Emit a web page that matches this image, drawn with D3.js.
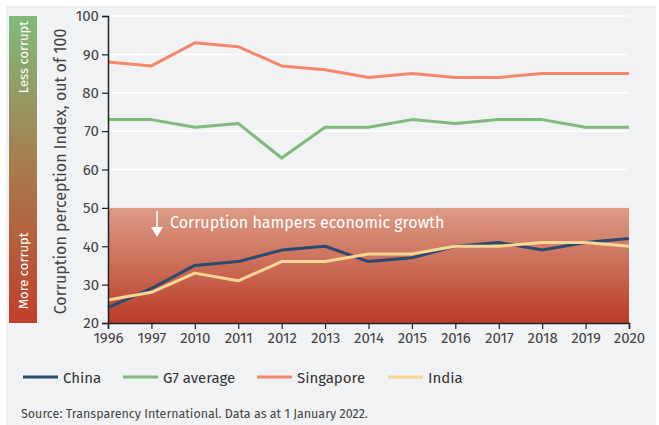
<!DOCTYPE html>
<html>
<head>
<meta charset="utf-8">
<script src="https://cdn.jsdelivr.net/npm/d3@7"></script>
<style>
  body { margin: 0; background: #fff; }
  svg { display: block; font-family: "Fira Sans", "Noto Sans", sans-serif; }
</style>
</head>
<body>
<svg id="chart" width="659" height="425"></svg>
<script>
const years = ['1996', '1997', '2010', '2011', '2012', '2013', '2014', '2015', '2016', '2017', '2018', '2019', '2020'];
const china = [24, 29, 35, 36, 39, 40, 36, 37, 40, 41, 39, 41, 42];
const g7 = [73, 73, 71, 72, 63, 71, 71, 73, 72, 73, 73, 71, 71];
const singapore = [88, 87, 93, 92, 87, 86, 84, 85, 84, 84, 85, 85, 85];
const india = [26, 28, 33, 31, 36, 36, 38, 38, 40, 40, 41, 41, 40];
const yTicks = [20, 30, 40, 50, 60, 70, 80, 90, 100];

const series = [
  {name: 'China', values: china, color: '#2b4a6f'},
  {name: 'G7 average', values: g7, color: '#80b97b'},
  {name: 'Singapore', values: singapore, color: '#f7876b'},
  {name: 'India', values: india, color: '#f6d894'}
];

const svg = d3.select('#chart');
svg.append('rect').attr('x', 6).attr('y', 6).attr('width', 650).attr('height', 419).attr('fill', '#f1f2f4');

const x = d3.scalePoint().domain(years).range([108, 629]);
const y = d3.scaleLinear().domain([20, 100]).range([323, 16]);

const defs = svg.append('defs');
const bandGrad = defs.append('linearGradient').attr('id', 'band').attr('x1', 0).attr('y1', 0).attr('x2', 0).attr('y2', 1);
bandGrad.append('stop').attr('offset', '0%').attr('stop-color', '#dd9c86');
bandGrad.append('stop').attr('offset', '100%').attr('stop-color', '#b93c29');
const sideGrad = defs.append('linearGradient').attr('id', 'side').attr('x1', 0).attr('y1', 0).attr('x2', 0).attr('y2', 1);
sideGrad.append('stop').attr('offset', '0%').attr('stop-color', '#80bb7a');
sideGrad.append('stop').attr('offset', '50%').attr('stop-color', '#a87a4e');
sideGrad.append('stop').attr('offset', '100%').attr('stop-color', '#c13f2b');

// side colour bar
svg.append('rect').attr('x', 9).attr('y', y(100)).attr('width', 28).attr('height', y(20) - y(100)).attr('fill', 'url(#side)');
svg.append('text').attr('transform', 'translate(27.5,' + (y(100) + 5) + ') rotate(-90)')
  .attr('text-anchor', 'end').attr('fill', '#fff').attr('font-size', 13).text('Less corrupt');
svg.append('text').attr('transform', 'translate(27.5,' + (y(20) - 14) + ') rotate(-90)')
  .attr('text-anchor', 'start').attr('fill', '#fff').attr('font-size', 13).text('More corrupt');

// axis title
svg.append('text').attr('transform', 'translate(66,' + ((y(20) + y(100)) / 2 + 2) + ') rotate(-90)')
  .attr('text-anchor', 'middle').attr('fill', '#444').attr('font-size', 16)
  .text('Corruption perception Index, out of 100');

// gridlines
svg.append('g').selectAll('line').data(yTicks.filter(d => d > 50)).enter().append('line')
  .attr('x1', x(years[0])).attr('x2', x(years[years.length - 1]))
  .attr('y1', d => y(d)).attr('y2', d => y(d))
  .attr('stroke', '#fff').attr('stroke-width', 1.5);

// corruption band
svg.append('rect').attr('x', x(years[0])).attr('y', y(50))
  .attr('width', x(years[years.length - 1]) - x(years[0])).attr('height', y(20) - y(50))
  .attr('fill', 'url(#band)');
svg.append('line').attr('x1', 157).attr('x2', 157).attr('y1', y(50) + 3).attr('y2', y(50) + 24)
  .attr('stroke', '#fff').attr('stroke-width', 1.5);
svg.append('path').attr('d', 'M151,' + (y(50) + 19) + ' L163,' + (y(50) + 19) + ' L157,' + (y(50) + 29) + ' Z').attr('fill', '#fff');
svg.append('text').attr('x', 170).attr('y', y(50) + 20).attr('fill', '#fff').attr('font-size', 16)
  .text('Corruption hampers economic growth');

// lines
const line = d3.line().x((d, i) => x(years[i])).y(d => y(d));
svg.append('g').selectAll('path').data(series).enter().append('path')
  .attr('d', d => line(d.values)).attr('fill', 'none')
  .attr('stroke', d => d.color).attr('stroke-width', 3).attr('stroke-linejoin', 'round');

// axes
const yAxis = svg.append('g').attr('transform', 'translate(' + x(years[0]) + ',0)')
  .call(d3.axisLeft(y).tickValues(yTicks).tickSize(6).tickPadding(3));
const xAxis = svg.append('g').attr('transform', 'translate(0,' + y(20) + ')')
  .call(d3.axisBottom(x).tickSize(6).tickPadding(3));
[yAxis, xAxis].forEach(function(g) {
  g.attr('font-family', null);
  g.select('.domain').attr('stroke', '#222').attr('stroke-width', 1.5);
  g.selectAll('.tick line').attr('stroke', '#222').attr('stroke-width', 1.2);
  g.selectAll('.tick text').attr('fill', '#444').attr('font-size', 15);
});

// legend
const legendX = [23, 123, 257, 388];
const legend = svg.append('g').selectAll('g').data(series).enter().append('g')
  .attr('transform', (d, i) => 'translate(' + legendX[i] + ',377)');
legend.append('line').attr('x1', 0).attr('x2', 35).attr('stroke', d => d.color).attr('stroke-width', 3);
legend.append('text').attr('x', 40).attr('y', 5.5).attr('fill', '#333').attr('font-size', 15).text(d => d.name);

svg.append('text').attr('x', 21).attr('y', 418).attr('fill', '#444').attr('font-size', 12.5)
  .text('Source: Transparency International. Data as at 1 January 2022.');
</script>
</body>
</html>
